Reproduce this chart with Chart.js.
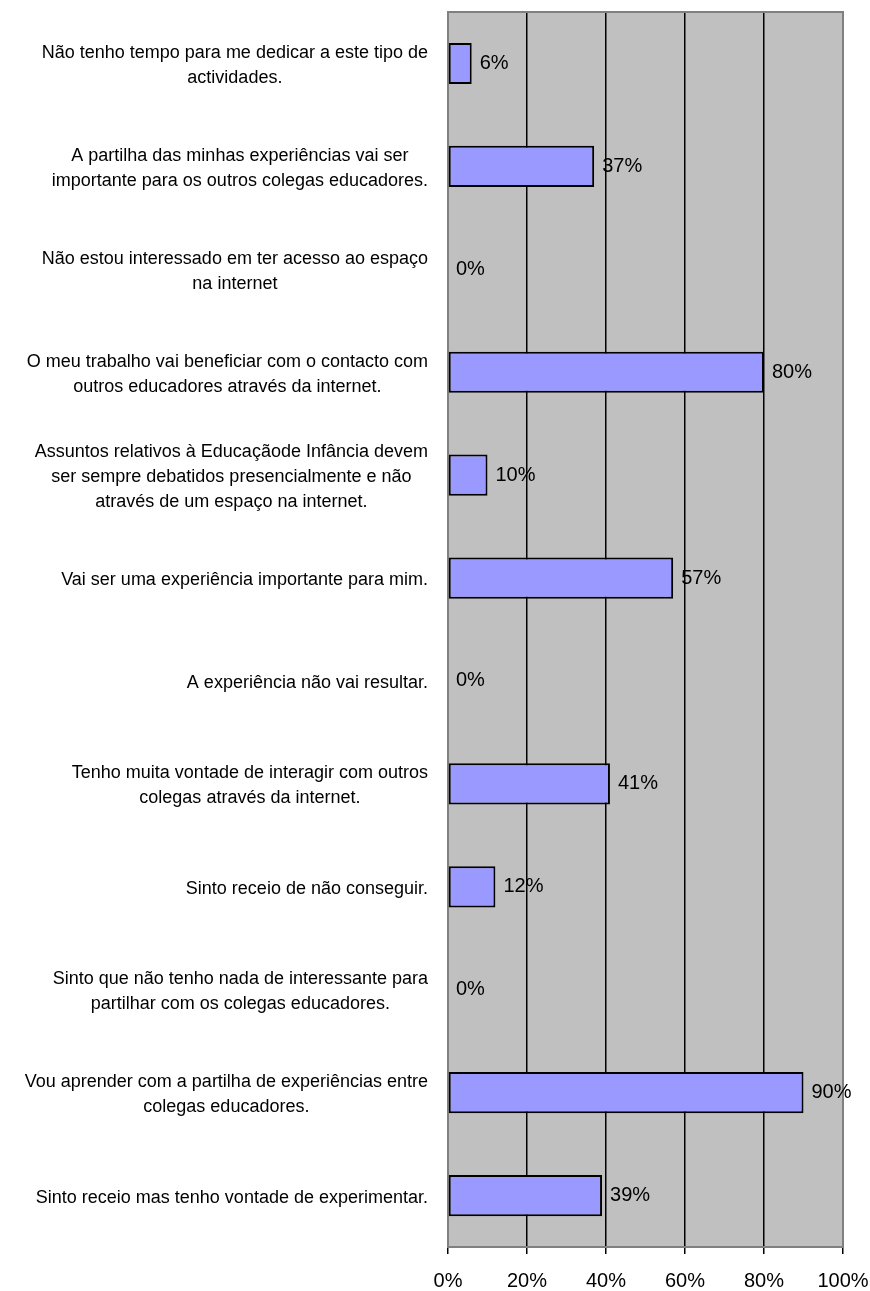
<!DOCTYPE html>
<html><head><meta charset="utf-8">
<script src="https://cdn.jsdelivr.net/npm/chart.js@4/dist/chart.umd.min.js"></script>
<style>html,body{margin:0;padding:0;background:#fff}#wrap{width:870px;height:1291px}</style>
</head><body><div id="wrap"><canvas id="c" width="870" height="1291"></canvas></div>
<script>
const categories = [
  ["Não tenho tempo para me dedicar a este tipo de", "actividades."],
  ["A partilha das minhas experiências vai ser", "importante para os outros colegas educadores."],
  ["Não estou interessado em ter acesso ao espaço", "na internet"],
  ["O meu trabalho vai beneficiar com o contacto com", "outros educadores através da internet."],
  ["Assuntos relativos à Educaçãode Infância devem", "ser sempre debatidos presencialmente e não", "através de um espaço na internet."],
  ["Vai ser uma experiência importante para mim."],
  ["A experiência não vai resultar."],
  ["Tenho muita vontade de interagir com outros", "colegas através da internet."],
  ["Sinto receio de não conseguir."],
  ["Sinto que não tenho nada de interessante para", "partilhar com os colegas educadores."],
  ["Vou aprender com a partilha de experiências entre", "colegas educadores."],
  ["Sinto receio mas tenho vontade de experimentar."]
];
const values = [6, 37, 0, 80, 10, 57, 0, 41, 12, 0, 90, 39];
const xTickValues = [0, 20, 40, 60, 80, 100];

const FONT = "'Liberation Sans', Arial, sans-serif";

const plotBg = {
  id: 'plotBg',
  beforeDraw(chart) {
    const {ctx, chartArea: a} = chart;
    ctx.save();
    ctx.fillStyle = '#c0c0c0';
    ctx.fillRect(a.left, a.top, a.right - a.left, a.bottom - a.top);
    ctx.restore();
  },
  beforeDatasetsDraw(chart) {
    const {ctx, chartArea: a} = chart;
    ctx.save();
    ctx.strokeStyle = '#808080';
    ctx.lineWidth = 2;
    ctx.strokeRect(a.left, a.top, a.right - a.left, a.bottom - a.top);
    ctx.restore();
  }
};

const labelsPlugin = {
  id: 'labelsPlugin',
  afterDraw(chart) {
    const {ctx} = chart;
    const meta = chart.getDatasetMeta(0);
    ctx.save();
    ctx.fillStyle = '#000';
    ctx.font = '20px ' + FONT;
    ctx.textAlign = 'left';
    ctx.textBaseline = 'middle';
    meta.data.forEach((el, i) => {
      ctx.fillText(values[i] + '%', el.x + 8, el.y);
    });
    const ys = chart.scales.y;
    ctx.font = '18px ' + FONT;
    ctx.textAlign = 'center';
    const rightEdge = chart.chartArea.left - 20;
    const lh = 25;
    categories.forEach((lines, i) => {
      const yc = ys.getPixelForTick(i) + 2;
      let maxW = 0;
      lines.forEach(l => { maxW = Math.max(maxW, ctx.measureText(l).width); });
      const cx = rightEdge - maxW / 2;
      lines.forEach((l, j) => {
        ctx.fillText(l, cx, yc + (j - (lines.length - 1) / 2) * lh);
      });
    });
    ctx.restore();
  }
};

new Chart(document.getElementById('c'), {
  type: 'bar',
  data: {
    labels: categories,
    datasets: [{
      data: values,
      backgroundColor: '#9999ff',
      borderColor: '#000',
      borderWidth: (c) => (c.raw === 0 ? 0 : 2),
      borderSkipped: false,
      barPercentage: 0.4,
      categoryPercentage: 1.0
    }]
  },
  options: {
    indexAxis: 'y',
    responsive: false,
    devicePixelRatio: 1,
    animation: false,
    layout: {padding: {top: 12, right: 27, bottom: 0, left: 0}},
    plugins: {legend: {display: false}, tooltip: {enabled: false}},
    scales: {
      y: {
        type: 'category',
        ticks: {display: false},
        grid: {display: false},
        border: {display: false},
        afterFit(s) { s.width = 448; }
      },
      x: {
        min: 0, max: 100,
        afterBuildTicks(s) { s.ticks = xTickValues.map(v => ({value: v})); },
        ticks: {
          callback: (v) => v + '%',
          color: '#000',
          font: {family: FONT, size: 20},
          padding: 15,
          maxRotation: 0
        },
        grid: {
          color: (c) => (c.index === 0 || c.index === xTickValues.length - 1) ? 'rgba(0,0,0,0)' : '#000',
          tickColor: '#000',
          lineWidth: 1.5,
          tickLength: 7
        },
        border: {display: false},
        afterFit(s) { s.height = 44; s.paddingRight = 0; s.paddingLeft = 0; }
      }
    }
  },
  plugins: [plotBg, labelsPlugin]
});
</script>
</body></html>
